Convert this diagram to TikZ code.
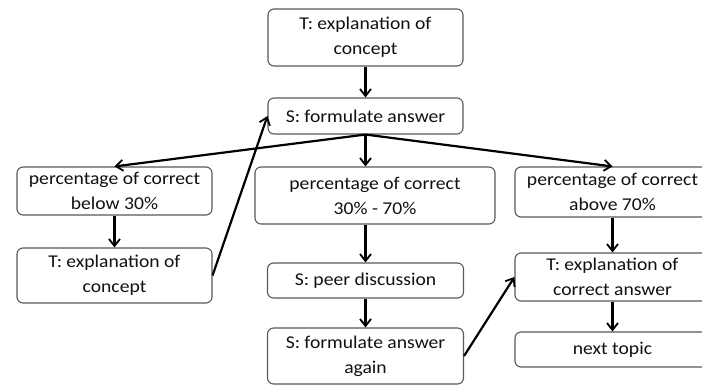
\documentclass[tikz,border=0pt]{standalone}
\usepackage{fontspec}
\setmainfont[FakeStretch=1.09]{Carlito}
\usetikzlibrary{arrows.meta}
\definecolor{boxline}{HTML}{595959}
\definecolor{txt}{HTML}{111111}
\begin{document}
\begin{tikzpicture}[x=1pt,y=-1pt,
  box/.style={draw=boxline, line width=1.1pt, rounded corners=6pt, fill=white,
    inner sep=0pt, align=center, text=txt,
    font=\fontsize{18}{25}\selectfont},
  conn/.style={line width=2.2pt, -{Straight Barb[length=7pt,width=11pt,line width=1.8pt]}}]
\useasboundingbox (0,0) rectangle (702,385);
\clip (0,0) rectangle (702,385);
\fill[white] (0,0) rectangle (702,385);
\node[box, minimum width=195, minimum height=57] (top) at (365.5,37.5) {T: explanation of\\concept};
\node[box, minimum width=195, minimum height=36] (sfa) at (365.5,116) {S: formulate answer};
\node[box, minimum width=195, minimum height=48] (lp) at (114.5,191) {percentage of correct\\below 30\%};
\node[box, minimum width=195, minimum height=55] (lt) at (114.5,275.5) {T: explanation of\\concept};
\node[box, minimum width=240, minimum height=57] (mp) at (375,195.5) {percentage of correct\\30\% - 70\%};
\node[box, minimum width=196, minimum height=35] (peer) at (365.5,280.5) {S: peer discussion};
\node[box, minimum width=196, minimum height=56] (again) at (365.5,356) {S: formulate answer\\again};
\node[box, minimum width=195, minimum height=50] (rp) at (612.5,192) {percentage of correct\\above 70\%};
\node[box, minimum width=195, minimum height=48] (rt) at (612.5,277) {T: explanation of\\correct answer};
\node[box, minimum width=195, minimum height=35] (nt) at (612.5,349.5) {next topic};
\draw[conn] (top.south) -- (sfa.north);
\draw[conn] (sfa.south) -- (lp.north);
\draw[conn] (sfa.south) -- (mp.north -| sfa.south);
\draw[conn] (sfa.south) -- (rp.north);
\draw[conn] (lp.south) -- (lt.north);
\draw[conn] (lt.east) -- (sfa.west);
\draw[conn] (mp.south -| peer.north) -- (peer.north);
\draw[conn] (peer.south) -- (again.north);
\draw[conn] (again.east) -- (rt.west);
\draw[conn] (rp.south) -- (rt.north);
\draw[conn] (rt.south) -- (nt.north);
\end{tikzpicture}
\end{document}
